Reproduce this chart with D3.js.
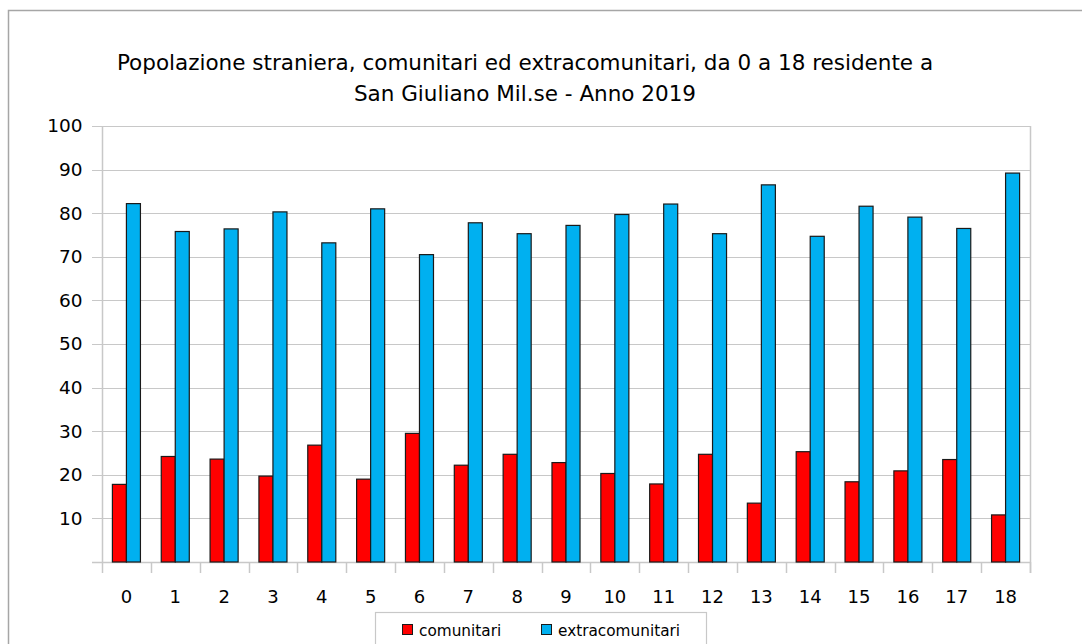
<!DOCTYPE html>
<html>
<head>
<meta charset="utf-8">
<script src="https://cdn.jsdelivr.net/npm/d3@7"></script>
<style>
html,body{margin:0;padding:0;background:#fff;}
svg{display:block;}
text{font-family:"DejaVu Sans",Verdana,sans-serif;fill:#000;}
</style>
</head>
<body>
<svg id="chart" width="1082" height="644"></svg>
<script>
const categories = ["0","1","2","3","4","5","6","7","8","9","10","11","12","13","14","15","16","17","18"];
const comunitari = [17.8,24.2,23.6,19.7,26.8,19.0,29.5,22.2,24.7,22.8,20.3,17.9,24.7,13.5,25.3,18.4,20.9,23.5,10.8];
const extracomunitari = [82.2,75.8,76.4,80.3,73.2,81.0,70.5,77.8,75.3,77.2,79.7,82.1,75.3,86.5,74.7,81.6,79.1,76.5,89.2];
const yTicks = [10,20,30,40,50,60,70,80,90,100];
const seriesNames = ["comunitari","extracomunitari"];
const seriesColors = ["#ff0000","#00b0f0"];
const titleLines = ["Popolazione straniera, comunitari ed extracomunitari, da 0 a 18 residente a","San Giuliano Mil.se - Anno 2019"];

const svg = d3.select("#chart");
const m = {left:102, right:1030, top:126, bottom:562};

// outer frame
svg.append("rect").attr("x",8.5).attr("y",10.5).attr("width",1090).attr("height",700)
  .attr("fill","none").attr("stroke","#a6a6a6").attr("stroke-width",1.5);

const x = d3.scaleBand().domain(categories).range([m.left,m.right]).paddingInner(0).paddingOuter(0);
const y = d3.scaleLinear().domain([0,100]).range([m.bottom,m.top]);

// gridlines
const gridCol = "#c8c8c8";
svg.append("g").selectAll("line").data(yTicks).join("line")
  .attr("x1",m.left-10).attr("x2",m.right)
  .attr("y1",d=>Math.round(y(d))+0.5).attr("y2",d=>Math.round(y(d))+0.5)
  .attr("stroke",gridCol).attr("stroke-width",1.2);

// y axis
const yAxis = d3.axisLeft(y).tickValues(yTicks).tickSize(10).tickPadding(10);
const gy = svg.append("g").attr("transform",`translate(${m.left+0.5},0)`).call(yAxis);
gy.select(".domain").attr("stroke",gridCol).attr("stroke-width",1.5).attr("d",`M0,${m.top}V${m.bottom}`);
gy.selectAll(".tick line").attr("stroke","none");
gy.selectAll(".tick text").attr("font-size","18.5px").attr("font-family","DejaVu Sans").attr("fill","#000");

// right vertical line
svg.append("line").attr("x1",m.right+0.5).attr("x2",m.right+0.5).attr("y1",m.top).attr("y2",m.bottom+11)
  .attr("stroke",gridCol).attr("stroke-width",1.5);

// x axis baseline + ticks between categories
svg.append("line").attr("x1",m.left-10).attr("x2",m.right).attr("y1",m.bottom+0.5).attr("y2",m.bottom+0.5)
  .attr("stroke",gridCol).attr("stroke-width",1.5);
const boundaries = categories.map(c=>x(c)).concat([x(categories[categories.length-1])+x.bandwidth()]);
svg.append("g").selectAll("line").data(boundaries).join("line")
  .attr("x1",d=>Math.round(d)+0.5).attr("x2",d=>Math.round(d)+0.5)
  .attr("y1",m.bottom).attr("y2",m.bottom+11)
  .attr("stroke",gridCol).attr("stroke-width",1.5);

const xAxis = d3.axisBottom(x).tickSize(0).tickPadding(28);
const gx = svg.append("g").attr("transform",`translate(0,${m.bottom})`).call(xAxis);
gx.select(".domain").remove();
gx.selectAll(".tick text").attr("font-size","18px").attr("font-family","DejaVu Sans").attr("fill","#000");

// bars
const barW = x.bandwidth()*0.287;
const data = categories.map((c,i)=>({c, vals:[comunitari[i],extracomunitari[i]]}));
const groups = svg.append("g").selectAll("g").data(data).join("g")
  .attr("transform",d=>`translate(${x(d.c)+x.bandwidth()/2 - barW},0)`);
groups.selectAll("rect").data(d=>d.vals.map((v,k)=>({v,k}))).join("rect")
  .attr("x",d=>d.k*barW).attr("width",barW)
  .attr("y",d=>y(d.v)).attr("height",d=>m.bottom-y(d.v))
  .attr("fill",d=>seriesColors[d.k]).attr("stroke","#1a1a1a").attr("stroke-width",1.2);

// title
const title = svg.append("text").attr("text-anchor","middle").attr("font-size","21.5px");
title.selectAll("tspan").data(titleLines).join("tspan")
  .attr("x",525).attr("y",(d,i)=>70+i*31).text(d=>d);

// legend
const lg = svg.append("g");
lg.append("rect").attr("x",375.5).attr("y",612.5).attr("width",331).attr("height",60)
  .attr("fill","#fff").attr("stroke","#c8c8c8").attr("stroke-width",1.2);
const legX = [402,541];
seriesNames.forEach((n,i)=>{
  lg.append("rect").attr("x",legX[i]+0.5).attr("y",624.5).attr("width",10).attr("height",10)
    .attr("fill",seriesColors[i]).attr("stroke","#1a1a1a").attr("stroke-width",1);
  lg.append("text").attr("x",legX[i]+17).attr("y",636).attr("font-size","15.3px").text(n);
});
</script>
</body>
</html>
